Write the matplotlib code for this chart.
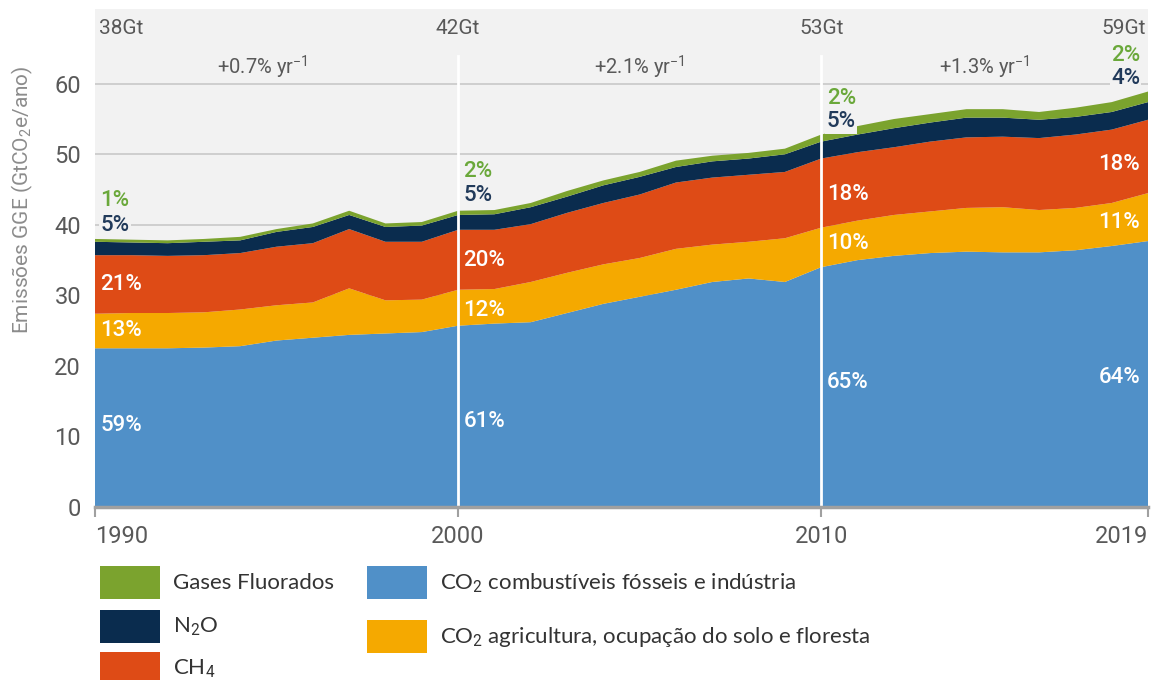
import matplotlib
matplotlib.use('Agg')
import matplotlib.pyplot as plt
from matplotlib.patches import Rectangle
import numpy as np

# emissions by gas, GtCO2e/yr
years = np.arange(1990, 2020)
co2_fossil = [22.5, 22.5, 22.5, 22.6, 22.8, 23.6, 24.0, 24.4, 24.6, 24.8,
              25.7, 26.0, 26.2, 27.5, 28.8, 29.8, 30.8, 31.9, 32.4, 31.9,
              34.0, 35.0, 35.6, 36.0, 36.2, 36.1, 36.1, 36.4, 37.0, 37.7]
co2_lulucf = [4.9, 5.0, 5.0, 5.0, 5.2, 5.0, 5.0, 6.6, 4.7, 4.6,
              5.1, 4.9, 5.7, 5.7, 5.6, 5.5, 5.8, 5.3, 5.2, 6.2,
              5.6, 5.6, 5.8, 5.9, 6.2, 6.4, 6.0, 6.0, 6.1, 6.8]
ch4 = [8.3, 8.2, 8.1, 8.1, 8.0, 8.3, 8.4, 8.4, 8.3, 8.2,
       8.5, 8.4, 8.2, 8.5, 8.7, 9.0, 9.4, 9.5, 9.5, 9.4,
       9.8, 9.7, 9.6, 9.9, 10.0, 10.0, 10.2, 10.4, 10.4, 10.4]
n2o = [1.9, 1.8, 1.8, 1.9, 1.8, 2.1, 2.3, 2.0, 2.1, 2.3,
       2.1, 2.2, 2.4, 2.3, 2.5, 2.5, 2.2, 2.3, 2.3, 2.5,
       2.4, 2.5, 2.7, 2.7, 2.8, 2.7, 2.6, 2.5, 2.5, 2.5]
fgas = [0.4, 0.4, 0.4, 0.4, 0.5, 0.4, 0.5, 0.6, 0.5, 0.5,
        0.6, 0.6, 0.6, 0.8, 0.7, 0.7, 0.9, 0.8, 0.8, 0.8,
        1.0, 1.2, 1.3, 1.2, 1.2, 1.2, 1.1, 1.3, 1.4, 1.5]

totals = ['38Gt', '42Gt', '53Gt', '59Gt']
total_years = [1990, 2000, 2010, 2019]
rates = [r'+0.7% yr$^{-1}$', r'+2.1% yr$^{-1}$', r'+1.3% yr$^{-1}$']
rate_x = [1994.6, 2005.0, 2014.5]

# share labels per snapshot year: fossil, lulucf, ch4, n2o, fgas
shares = {
    1990: ['59%', '13%', '21%', '5%', '1%'],
    2000: ['61%', '12%', '20%', '5%', '2%'],
    2010: ['65%', '10%', '18%', '5%', '2%'],
    2019: ['64%', '11%', '18%', '4%', '2%'],
}
share_y = {
    1990: [11.6, 25.0, 31.6, 39.9, 43.5],
    2000: [12.1, 27.9, 35.0, 44.1, 47.5],
    2010: [17.6, 37.4, 44.3, 54.6, 57.9],
    2019: [18.3, 40.4, 48.5, 60.7, 64.0],
}

c_fossil = '#5090c8'
c_lulucf = '#f5a900'
c_ch4 = '#de4b16'
c_n2o = '#0a2c4e'
c_fgas = '#7ba32e'
txt_grey = '#595959'
bg = '#f2f2f2'

plt.rcParams['mathtext.fontset'] = 'custom'
plt.rcParams['mathtext.rm'] = 'Roboto'
cond = ['Roboto', 'DejaVu Sans']
leg_font = ['Lato', 'DejaVu Sans']

fig = plt.figure(figsize=(11.57, 6.8), dpi=100)
ax = fig.add_axes([95/1157, 1 - 507/680, (1148 - 95)/1157, (507 - 9)/680])
ax.set_facecolor(bg)

ax.stackplot(years, co2_fossil, co2_lulucf, ch4, n2o, fgas,
             colors=[c_fossil, c_lulucf, c_ch4, c_n2o, c_fgas], lw=0, zorder=2)

ax.set_xlim(1990, 2019)
ax.set_ylim(0, 70.6)
ax.set_yticks(range(0, 61, 10))
ax.yaxis.grid(True, color='#c8c8c8', lw=1.2, zorder=1)
ax.set_axisbelow(True)
for s in ['top', 'right', 'left']:
    ax.spines[s].set_visible(False)
ax.spines['bottom'].set_color('#a0a0a0')
ax.spines['bottom'].set_linewidth(2.5)
ax.spines['bottom'].set_zorder(5)
ax.tick_params(axis='y', length=0, pad=10, labelsize=17, labelcolor=txt_grey)
ax.tick_params(axis='x', length=7, width=1.5, color='#a0a0a0', pad=6,
               labelsize=17, labelcolor=txt_grey)
for t in ax.get_yticklabels():
    t.set_family(cond)
ax.set_xticks(total_years)
ax.set_xticklabels([str(y) for y in total_years], family=cond)
xl = ax.get_xticklabels()
xl[0].set_ha('left')
xl[0].set_x(1989.85)
xl[-1].set_ha('right')

# white separators
for yr in [2000, 2010]:
    ax.plot([yr, yr], [0, 64.0], color='white', lw=2, zorder=4)

# totals and growth rates
for lab, yr in zip(totals, total_years):
    ha = 'center'
    x = yr
    if yr == 1990:
        ha, x = 'left', 1990.1
    if yr == 2019:
        ha, x = 'right', 2018.95
    ax.text(x, 67.9, lab, ha=ha, va='center', fontsize=15, color=txt_grey, family=cond)
for lab, x in zip(rates, rate_x):
    ax.text(x, 62.3, lab, ha='center', va='center', fontsize=14.5, color=txt_grey, family=cond)

# share labels
tcols = ['white', 'white', 'white', '#213a5a', '#6aa83a']
for yr in shares:
    if yr == 2019:
        x, ha = 2018.78, 'right'
    else:
        x, ha = yr + 0.15, 'left'
    for lab, y, col in zip(shares[yr], share_y[yr], tcols):
        box = None
        if col == '#213a5a':
            box = dict(facecolor=bg, edgecolor='none', pad=1)
        ax.text(x, y, lab, ha=ha, va='center', fontsize=16, color=col,
                family=cond, weight='medium', bbox=box, zorder=6)

# y label
fig.text(22/1157, 1 - 200/680, r'Emissões GGE (GtCO$_2$e/ano)', rotation=90,
         ha='center', va='center', fontsize=15, color='#8c8c8c', family=cond)

# legend drawn by hand
leg = [
    (100, 566, c_fgas, 'Gases Fluorados'),
    (100, 610, c_n2o, r'N$_2$O'),
    (100, 652, c_ch4, r'CH$_4$'),
    (367, 566, c_fossil, r'CO$_2$ combustíveis fósseis e indústria'),
    (367, 620, c_lulucf, r'CO$_2$ agricultura, ocupação do solo e floresta'),
]
for px, py, col, lab in leg:
    fig.patches.append(Rectangle((px/1157, 1 - (py + 33)/680), 60/1157, 33/680,
                                 transform=fig.transFigure, facecolor=col,
                                 edgecolor='none'))
    fig.text((px + 73)/1157, 1 - (py + 17)/680, lab, ha='left', va='center',
             fontsize=16, color='#333333', family=leg_font)

fig.savefig('out.png', dpi=100, facecolor='white')
